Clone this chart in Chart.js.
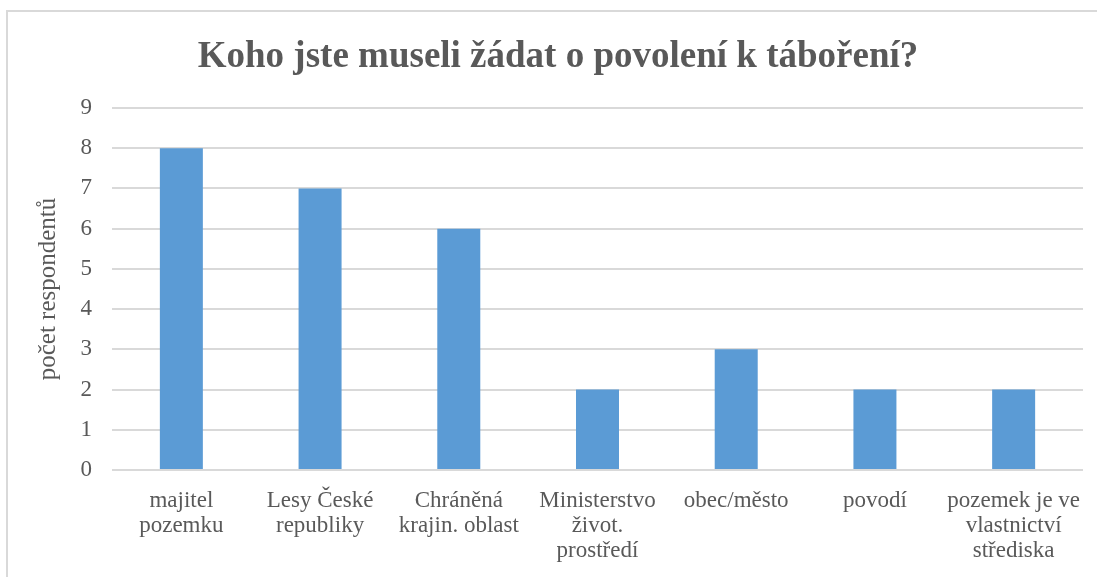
<!DOCTYPE html>
<html>
<head>
<meta charset="utf-8">
<script src="https://cdn.jsdelivr.net/npm/chart.js@4.4.0/dist/chart.umd.min.js"></script>
<style>
  body { margin: 0; background: #fff; overflow: hidden; }
  #frame { position: absolute; left: 6px; top: 10px; width: 1100px; height: 600px; border: 2px solid #d9d9d9; }
  #wrap { position: absolute; left: 0; top: 0; width: 1097px; height: 577px; }
</style>
</head>
<body>
<div id="frame"></div>
<div id="wrap"><canvas id="myChart"></canvas></div>
<script>
// ---------------------------------------------------------------------- DATA
const categories = [
  ["majitel", "pozemku"],
  ["Lesy České", "republiky"],
  ["Chráněná", "krajin. oblast"],
  ["Ministerstvo", "život.", "prostředí"],
  "obec/město",
  "povodí",
  ["pozemek je ve", "vlastnictví", "střediska"]
];
const respondents = [8, 7, 6, 2, 3, 2, 2];
const yTicks = [0, 1, 2, 3, 4, 5, 6, 7, 8, 9];

const chartTitle = "Koho jste museli žádat o povolení k táboření?";
const yTitle = "počet respondentů";

// ---------------------------------------------------------------------- STYLE
const textColor = "#595959";
const gridColor = "#d9d9d9";
const serif = "'Liberation Serif', 'Times New Roman', serif";

// ---------------------------------------------------------------------- CHART
const graph = document.querySelector("#myChart");

const config = {
  type: "bar",
  data: {
    labels: categories,
    datasets: [
      {
        label: yTitle,
        data: respondents,
        backgroundColor: "#5b9bd5",
        barPercentage: 1,
        categoryPercentage: 0.31,
      },
    ],
  },
  options: {
    responsive: false,
    animation: false,
    // left padding pushes the title centre right, like the framed original
    layout: { padding: { left: 33, right: 14, top: 0, bottom: 0 } },
    plugins: {
      legend: { display: false },
      tooltip: { enabled: false },
      title: {
        display: true,
        text: chartTitle,
        color: textColor,
        font: { family: serif, size: 37, weight: "bold" },
        padding: { top: 35, bottom: 28.6 },
      },
    },
    scales: {
      x: {
        grid: { display: false },
        border: { display: false },
        ticks: {
          color: textColor,
          font: { family: serif, size: 23, lineHeight: 1.1 },
          padding: 10,
          maxRotation: 0,
          autoSkip: false,
        },
        afterFit: (scale) => { scale.height = 107; },
      },
      y: {
        min: 0,
        max: 9,
        afterBuildTicks: (scale) => { scale.ticks = yTicks.map((v) => ({ value: v })); },
        grid: { color: gridColor, lineWidth: 2, drawTicks: false },
        border: { display: false },
        ticks: {
          color: textColor,
          font: { family: serif, size: 23 },
          padding: 20,
        },
        title: {
          display: true,
          text: yTitle,
          color: textColor,
          font: { family: serif, size: 25 },
          padding: { top: 0, bottom: 0 },
        },
        afterFit: (scale) => { scale.width = 79; },
      },
    },
  },
};

graph.width = 1097;
graph.height = 577;
new Chart(graph, config);
</script>
</body>
</html>
